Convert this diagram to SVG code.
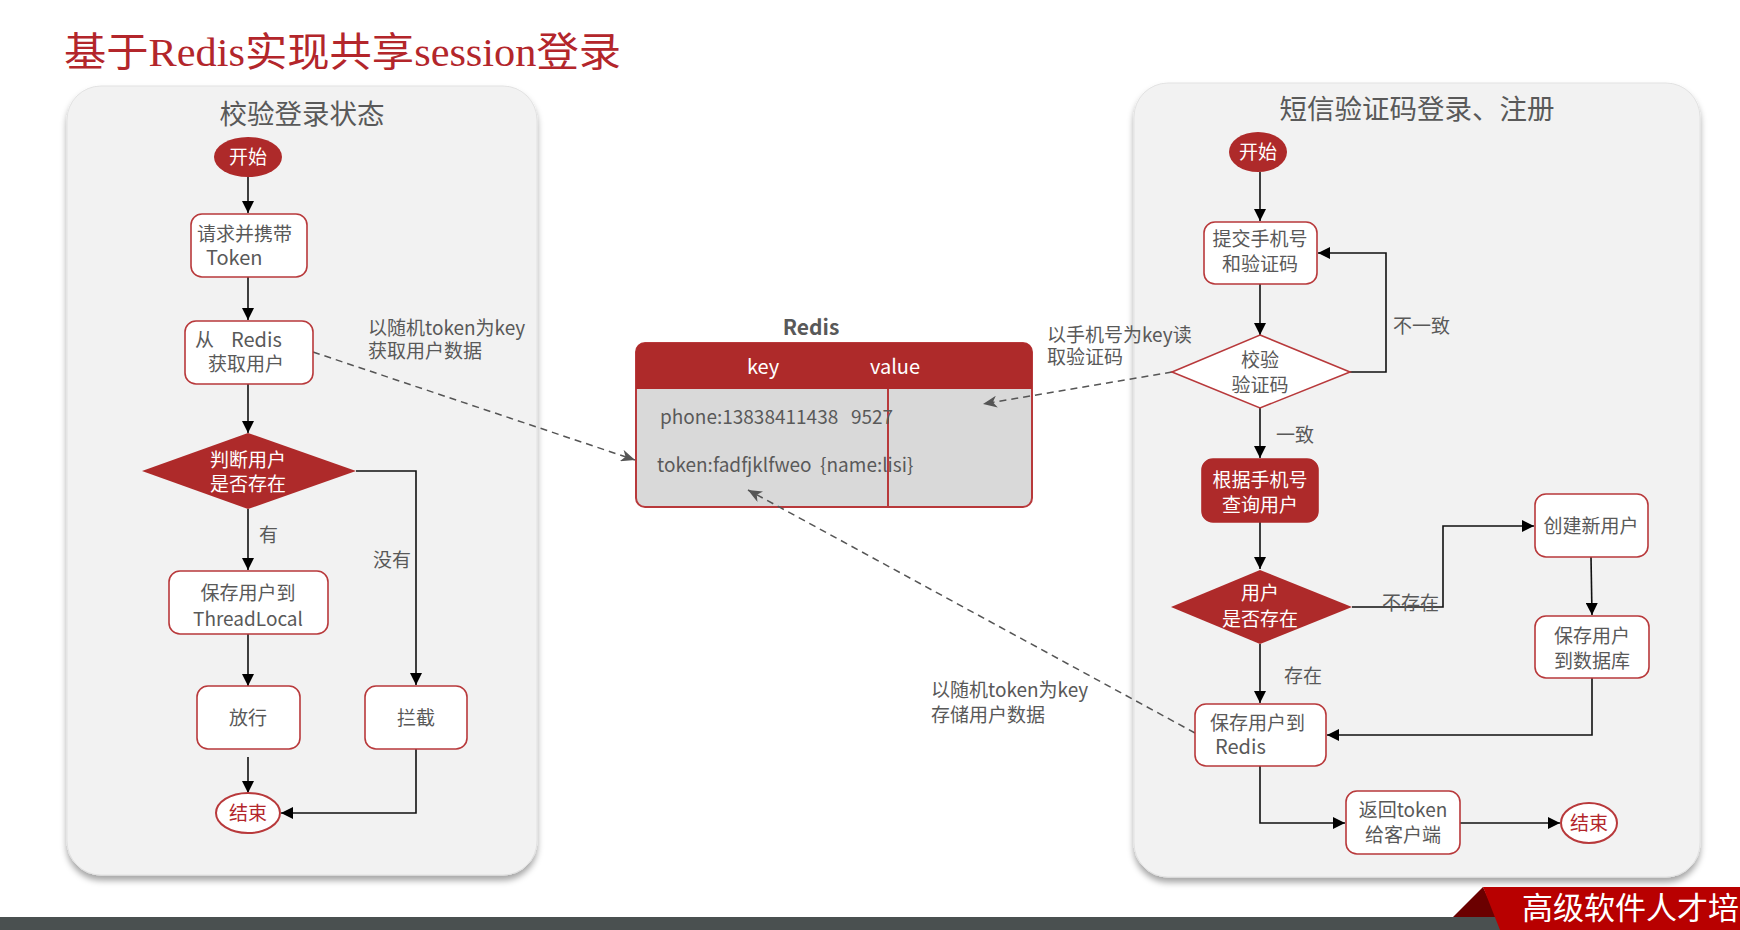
<svg xmlns="http://www.w3.org/2000/svg" width="1740" height="930" viewBox="0 0 1740 930">
<defs>
<style>
.t{font-family:"Noto Sans CJK SC","Noto Sans",sans-serif;font-size:19px;fill:#595959}
.c{text-anchor:middle}
.w{fill:#ffffff}
.r{fill:#b3262b}
.box{fill:#ffffff;stroke:#b8393b;stroke-width:1.6}
.rbox{fill:#ae2a2a;stroke:#ae2a2a;stroke-width:1.6}
.ln{fill:none;stroke:#111;stroke-width:1.6}
.dash{fill:none;stroke:#555;stroke-width:1.5;stroke-dasharray:7 5}
.panel{fill:#f2f2f2;stroke:#e2e2e2;stroke-width:1}
</style>
<marker id="ar" viewBox="0 0 12 12" refX="12" refY="6" markerWidth="12" markerHeight="12" markerUnits="userSpaceOnUse" orient="auto">
<path d="M0,0 L12,6 L0,12 z" fill="#000"/>
</marker>
<marker id="ad" viewBox="0 0 14 12" refX="14" refY="6" markerWidth="14" markerHeight="12" markerUnits="userSpaceOnUse" orient="auto">
<path d="M0,0 L14,6 L0,12 L4,6 z" fill="#555"/>
</marker>
<filter id="sh" x="-5%" y="-5%" width="110%" height="110%">
<feDropShadow dx="0" dy="5" stdDeviation="3" flood-color="#000" flood-opacity="0.35"/>
</filter>
</defs>

<rect width="1740" height="930" fill="#ffffff"/>

<text x="64" y="66" textLength="557" lengthAdjust="spacingAndGlyphs" style="font-family:'Liberation Serif','Noto Sans CJK SC',serif;font-size:40px;fill:#b3262b">基于Redis实现共享session登录</text>

<g id="panel-left">
<rect class="panel" x="67" y="86" width="470" height="789" rx="34" filter="url(#sh)"/>
<text class="t c" x="302" y="124" style="font-size:27.5px">校验登录状态</text>
</g>

<g id="panel-right">
<rect class="panel" x="1134" y="83" width="566" height="794" rx="34" filter="url(#sh)"/>
<text class="t c" x="1417" y="119" style="font-size:27.5px">短信验证码登录、注册</text>
</g>

<g id="redis">
<text class="t c" x="811" y="335" style="font-size:21px;font-weight:bold">Redis</text>
<rect x="636" y="343" width="396" height="164" rx="9" fill="#d9d9d9" stroke="#b8393b" stroke-width="2"/>
<path d="M636,389 V352 Q636,343 645,343 H1023 Q1032,343 1032,352 V389 Z" fill="#ae2a2a"/>
<line x1="888" y1="389" x2="888" y2="507" stroke="#b8393b" stroke-width="2"/>
<text class="t c w" x="763" y="374" style="font-size:20px">key</text>
<text class="t c w" x="895" y="374" style="font-size:20px">value</text>
<text class="t" x="660" y="424" xml:space="preserve">phone:13838411438   9527</text>
<text class="t" x="657" y="472" xml:space="preserve">token:fadfjklfweo  {name:lisi}</text>
</g>

<g id="connectors">
<path class="ln" d="M248,177 V213" marker-end="url(#ar)"/>
<path class="ln" d="M248,277 V320" marker-end="url(#ar)"/>
<path class="ln" d="M248,384 V433" marker-end="url(#ar)"/>
<path class="ln" d="M248,509 V570" marker-end="url(#ar)"/>
<path class="ln" d="M356,471 H416 V685" marker-end="url(#ar)"/>
<path class="ln" d="M248,634 V686" marker-end="url(#ar)"/>
<path class="ln" d="M248,757 V793" marker-end="url(#ar)"/>
<path class="ln" d="M416,749 V813 H281" marker-end="url(#ar)"/>

<path class="ln" d="M1260,172 V221" marker-end="url(#ar)"/>
<path class="ln" d="M1260,284 V335" marker-end="url(#ar)"/>
<path class="ln" d="M1350,372 H1386 V253 H1318" marker-end="url(#ar)"/>
<path class="ln" d="M1260,408 V458" marker-end="url(#ar)"/>
<path class="ln" d="M1260,522 V569" marker-end="url(#ar)"/>
<path class="ln" d="M1352,607 H1443 V526 H1534" marker-end="url(#ar)"/>
<path class="ln" d="M1591,557 L1592,615" marker-end="url(#ar)"/>
<path class="ln" d="M1592,678 V735 H1327" marker-end="url(#ar)"/>
<path class="ln" d="M1260,644 V703" marker-end="url(#ar)"/>
<path class="ln" d="M1260,766 V823 H1345" marker-end="url(#ar)"/>
<path class="ln" d="M1460,823 H1560" marker-end="url(#ar)"/>

<path class="dash" d="M313,352 L635,460" marker-end="url(#ad)"/>
<path class="dash" d="M1172,372 L983,404" marker-end="url(#ad)"/>
<path class="dash" d="M1195,733 L748,490" marker-end="url(#ad)"/>

<text class="t" x="259" y="542">有</text>
<text class="t" x="373" y="567">没有</text>
<text class="t" x="368" y="335">以随机token为key</text>
<text class="t" x="368" y="358">获取用户数据</text>
<text class="t" x="1047" y="342">以手机号为key读</text>
<text class="t" x="1047" y="364">取验证码</text>
<text class="t" x="931" y="697">以随机token为key</text>
<text class="t" x="931" y="722">存储用户数据</text>
<text class="t" x="1393" y="333">不一致</text>
<text class="t" x="1276" y="442">一致</text>
<text class="t" x="1382" y="610">不存在</text>
<text class="t" x="1284" y="683">存在</text>
</g>

<g id="start-left">
<ellipse cx="248" cy="157" rx="34" ry="20" fill="#ae2a2a"/>
<text class="t c w" x="248" y="164">开始</text>
</g>
<g id="request-token">
<rect class="box" x="191" y="214" width="116" height="63" rx="11"/>
<text class="t" x="197" y="241">请求并携带</text>
<text class="t" x="206" y="265" style="font-size:20px">Token</text>
</g>
<g id="get-user">
<rect class="box" x="185" y="321" width="128" height="63" rx="11"/>
<text class="t" x="195" y="347">从</text>
<text class="t" x="231" y="347" style="font-size:20px">Redis</text>
<text class="t" x="208" y="371">获取用户</text>
</g>
<g id="user-exists-left">
<polygon points="248,433 356,471 248,509 142,471" fill="#ae2a2a"/>
<text class="t c w" x="248" y="467">判断用户</text>
<text class="t c w" x="248" y="491">是否存在</text>
</g>
<g id="save-threadlocal">
<rect class="box" x="169" y="571" width="159" height="63" rx="11"/>
<text class="t c" x="248" y="600">保存用户到</text>
<text class="t c" x="248" y="626">ThreadLocal</text>
</g>
<g id="pass">
<rect class="box" x="197" y="686" width="103" height="63" rx="11"/>
<text class="t c" x="248" y="725">放行</text>
</g>
<g id="block">
<rect class="box" x="365" y="686" width="102" height="63" rx="11"/>
<text class="t c" x="416" y="725">拦截</text>
</g>
<g id="end-left">
<ellipse cx="248" cy="813" rx="32" ry="20" fill="#ffffff" stroke="#b8393b" stroke-width="2"/>
<text class="t c r" x="248" y="820">结束</text>
</g>

<g id="start-right">
<ellipse cx="1258" cy="152" rx="29" ry="20" fill="#ae2a2a"/>
<text class="t c w" x="1258" y="159">开始</text>
</g>
<g id="submit-phone">
<rect class="box" x="1204" y="222" width="113" height="62" rx="11"/>
<text class="t c" x="1260" y="246">提交手机号</text>
<text class="t c" x="1260" y="271">和验证码</text>
</g>
<g id="verify-code">
<polygon points="1260,335 1350,372 1260,408 1172,372" fill="#ffffff" stroke="#b8393b" stroke-width="1.6"/>
<text class="t c" x="1260" y="367">校验</text>
<text class="t c" x="1260" y="392">验证码</text>
</g>
<g id="query-user">
<rect class="rbox" x="1202" y="459" width="116" height="63" rx="11"/>
<text class="t c w" x="1260" y="487">根据手机号</text>
<text class="t c w" x="1260" y="512">查询用户</text>
</g>
<g id="user-exists-right">
<polygon points="1260,570 1352,607 1260,644 1171,607" fill="#ae2a2a"/>
<text class="t c w" x="1260" y="600">用户</text>
<text class="t c w" x="1260" y="626">是否存在</text>
</g>
<g id="create-user">
<rect class="box" x="1535" y="494" width="113" height="63" rx="11"/>
<text class="t c" x="1591" y="533">创建新用户</text>
</g>
<g id="save-db">
<rect class="box" x="1535" y="616" width="114" height="62" rx="11"/>
<text class="t c" x="1592" y="643">保存用户</text>
<text class="t c" x="1592" y="668">到数据库</text>
</g>
<g id="save-redis">
<rect class="box" x="1195" y="704" width="131" height="62" rx="11"/>
<text class="t" x="1210" y="730">保存用户到</text>
<text class="t" x="1215" y="754" style="font-size:20px">Redis</text>
</g>
<g id="return-token">
<rect class="box" x="1346" y="791" width="114" height="63" rx="11"/>
<text class="t c" x="1403" y="817">返回token</text>
<text class="t c" x="1403" y="842">给客户端</text>
</g>
<g id="end-right">
<ellipse cx="1589" cy="823" rx="28" ry="20" fill="#ffffff" stroke="#b8393b" stroke-width="2"/>
<text class="t c r" x="1589" y="830">结束</text>
</g>

<g id="footer">
<rect x="0" y="917" width="1740" height="13" fill="#4a5050"/>
<polygon points="1453,917 1483,887 1497,917" fill="#6b0000"/>
<polygon points="1483,887 1740,887 1740,930 1500,930" fill="#b80000"/>
<text x="1522" y="919" style="font-family:'Noto Sans CJK SC',sans-serif;font-size:31px;fill:#ffffff">高级软件人才培</text>
</g>
</svg>
